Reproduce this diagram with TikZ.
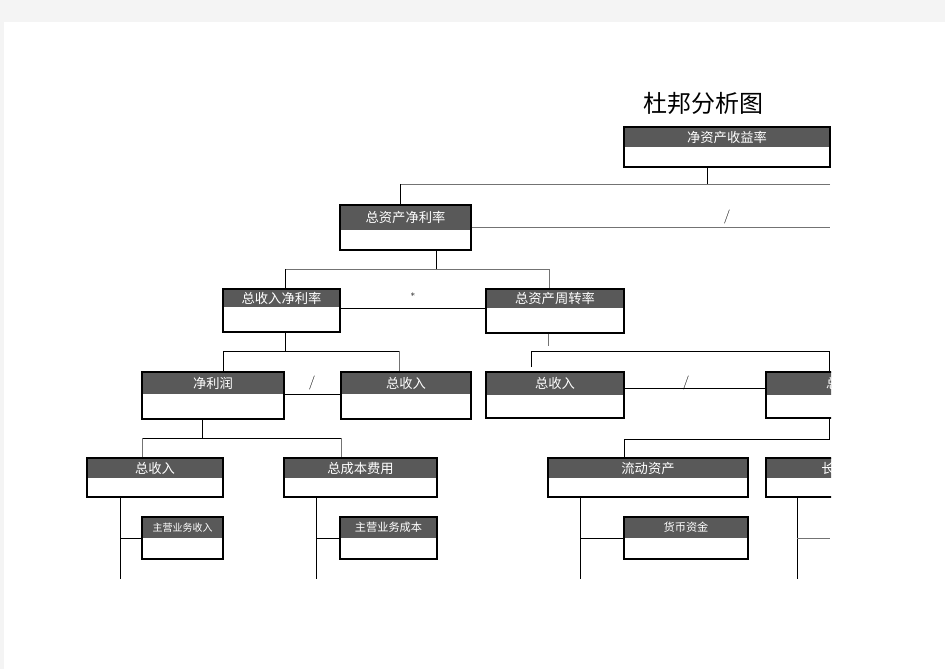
\documentclass[tikz,border=0pt]{standalone}
\usepackage{fontspec}
\newfontfamily\cjk{Noto Sans CJK SC}
\definecolor{hdrgray}{HTML}{595959}
\definecolor{pagegray}{HTML}{F4F4F4}
\tikzset{
  boxframe/.style={draw=black, line width=1.1pt, inner sep=0pt, fill=none},
  hdrtext/.style={text=white, font=\cjk\fontsize{13.3}{15}\selectfont, inner sep=0pt},
  hdrsmall/.style={text=white, font=\cjk\fontsize{10}{11}\selectfont, inner sep=0pt},
  hdrmid/.style={text=white, font=\cjk\fontsize{11.2}{12}\selectfont, inner sep=0pt},
  conn/.style={draw=black, line width=0.9pt},
  connlight/.style={draw=black!55, line width=0.9pt},
  optext/.style={font=\fontsize{14}{15}\selectfont, inner sep=0pt, text=black},
}
% name, x1, y1, x2, y2, yheader, text, textstyle
\newcommand{\dpbox}[8]{%
  \fill[hdrgray] (#2,#3) rectangle (#4,#6);
  \node[boxframe, minimum width={#4pt-#2pt}, minimum height={#5pt-#3pt}] (#1) at ({(#2+#4)/2},{(#3+#5)/2}) {};
  \node[#8] (#1-h) at ({(#2+#4)/2},{(#3+#6)/2}) {#7};
}
\begin{document}
\begin{tikzpicture}[x=1pt,y=-1pt]
\useasboundingbox (0,0) rectangle (945,669);
\fill[pagegray] (0,0) rectangle (945,669);
\fill[white] (4,22) rectangle (945,669);

\node[font=\cjk\fontsize{24}{27}\selectfont, inner sep=0pt] (title) at (703,103) {杜邦分析图};

\begin{scope}
\clip (0,0) rectangle (831,669);
\dpbox{roe}{624}{127}{830}{167}{147}{净资产收益率}{hdrtext}
\dpbox{roa}{340}{205}{471}{250}{230}{总资产净利率}{hdrtext}
\dpbox{npm}{223}{289}{340}{332}{307}{总收入净利率}{hdrtext}
\dpbox{tat}{486}{289}{624}{333}{308}{总资产周转率}{hdrtext}
\dpbox{ni}{142}{372}{284}{419}{394}{净利润}{hdrtext}
\dpbox{revb}{341}{372}{471}{419}{394}{总收入}{hdrtext}
\dpbox{revc}{486}{372}{624}{418}{395}{总收入}{hdrtext}
\dpbox{ta}{766}{372}{926}{418}{395}{总资产}{hdrtext}
\dpbox{reva}{87}{458}{223}{497}{478}{总收入}{hdrtext}
\dpbox{tc}{284}{458}{437}{497}{478}{总成本费用}{hdrtext}
\dpbox{ca}{548}{458}{748}{497}{478}{流动资产}{hdrtext}
\dpbox{lta}{766}{458}{930}{497}{478}{长期资产}{hdrtext}
\dpbox{mr}{142}{517}{223}{559}{538}{主营业务收入}{hdrsmall}
\dpbox{mc}{340}{517}{437}{559}{538}{主营业务成本}{hdrmid}
\dpbox{cash}{624}{517}{748}{559}{538}{货币资金}{hdrmid}

% junction coordinates
\coordinate (j1) at (707,184);
\coordinate (j1r) at (830,184);
\coordinate (j1l) at (400,184);
\coordinate (j2r) at (830,227);
\coordinate (j3) at (436,269);
\coordinate (j3l) at (285,269);
\coordinate (j3r) at (549,269);
\coordinate (j4) at (285,351);
\coordinate (j4l) at (223,351);
\coordinate (j4r) at (399,351);
\coordinate (j5) at (548,346);
\coordinate (j5l) at (531,351);
\coordinate (j5r) at (829,351);
\coordinate (j5s) at (531,367);
\coordinate (j6r) at (829,439);
\coordinate (j6l) at (624,439);
\coordinate (j7) at (202,438);
\coordinate (j7l) at (142,438);
\coordinate (j7r) at (341,438);
\coordinate (k1) at (120,579);
\coordinate (k2) at (316,579);
\coordinate (k3) at (580,579);
\coordinate (k4) at (797,579);
\coordinate (k4r) at (830,538);

% connectors
\draw[conn] (roe.south -| j1) -- (j1);
\draw[connlight] (j1r) -- (j1l);
\draw[conn] (j1l) -- (roa.north -| j1l);
\draw[connlight] (roa.east |- j2r) -- (j2r);
\draw[conn] (roa.south -| j3) -- (j3);
\draw[connlight] (j3l) -- (j3r);
\draw[conn] (j3l) -- (npm.north -| j3l);
\draw[connlight] (j3r) -- (tat.north -| j3r);
\draw[conn] (npm.east |- 0,308) -- (tat.west |- 0,308);
\draw[conn] (npm.south -| j4) -- (j4);
\draw[conn] (j4l) -- (j4r);
\draw[conn] (j4l) -- (ni.north -| j4l);
\draw[connlight] (j4r) -- (revb.north -| j4r);
\draw[conn] (ni.east |- 0,394) -- (revb.west |- 0,394);
\draw[connlight] (tat.south -| j5) -- (j5);
\draw[conn] (j5s) -- (j5l) -- (j5r) -- (ta.north -| j5r);
\draw[conn] (revc.east |- 0,388) -- (ta.west |- 0,388);
\draw[conn] (ta.south -| j6r) -- (j6r) -- (j6l) -- (ca.north -| j6l);
\draw[conn] (ni.south -| j7) -- (j7);
\draw[conn] (j7l) -- (j7r);
\draw[connlight] (j7l) -- (reva.north -| j7l);
\draw[connlight] (j7r) -- (tc.north -| j7r);
\draw[conn] (reva.south -| k1) -- (k1);
\draw[conn] (k1 |- mr.west) -- (mr.west);
\draw[conn] (tc.south -| k2) -- (k2);
\draw[conn] (k2 |- mc.west) -- (mc.west);
\draw[conn] (ca.south -| k3) -- (k3);
\draw[conn] (k3 |- cash.west) -- (cash.west);
\draw[conn] (lta.south -| k4) -- (k4);
\draw[connlight] (k4 |- k4r) -- (k4r);
\end{scope}

\node[optext] (op1) at (727,217) {/};
\node[optext, font=\fontsize{9}{10}\selectfont] (op2) at (413,296) {*};
\node[optext] (op3) at (312,383) {/};
\node[optext] (op4) at (686,383) {/};
\end{tikzpicture}
\end{document}
